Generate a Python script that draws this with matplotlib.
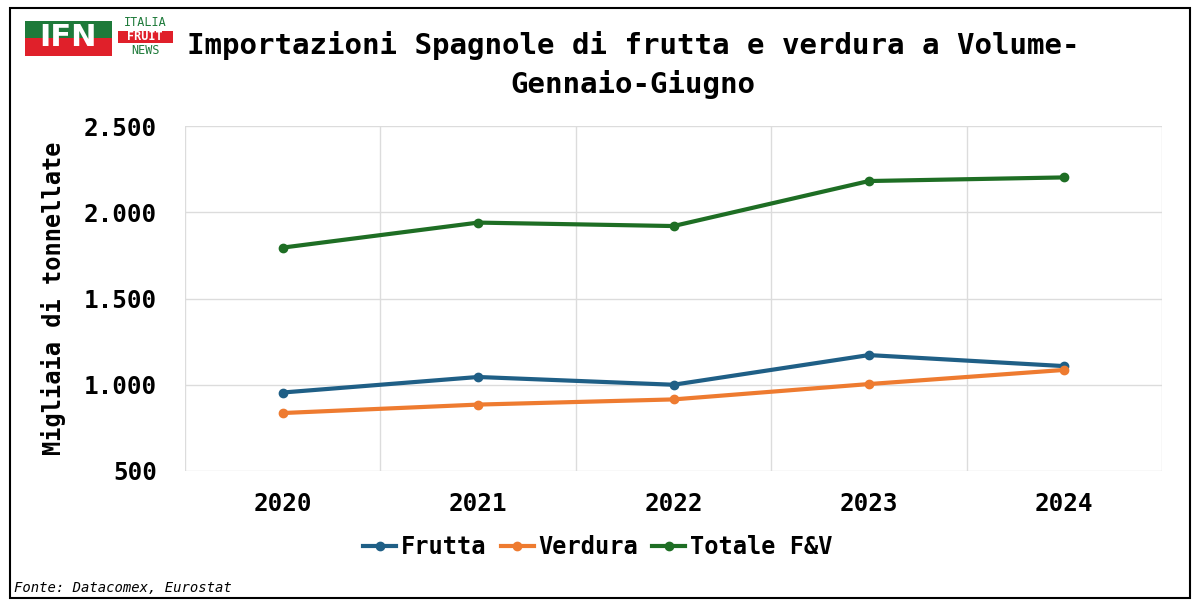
import matplotlib.pyplot as plt
from matplotlib.patches import Rectangle

years = ["2020", "2021", "2022", "2023", "2024"]
frutta = [955, 1045, 1000, 1172, 1108]
verdura = [836, 885, 915, 1004, 1086]
totale = [1795, 1940, 1920, 2181, 2202]
series_names = ["Frutta", "Verdura", "Totale F&V"]
colors = ["#1F5F86", "#EE7B30", "#1E6E24"]
yticks = [500, 1000, 1500, 2000, 2500]
ytick_labels = ["500", "1.000", "1.500", "2.000", "2.500"]

W, H = 1200, 608
fig = plt.figure(figsize=(12, 6.08), dpi=100)
mono = "DejaVu Sans Mono"

# plot area in pixel coords -> figure fractions
left, right, top, bottom = 185, 1162, 126, 471
ax = fig.add_axes([left / W, 1 - bottom / H, (right - left) / W, (bottom - top) / H])

x = list(range(len(years)))
for vals, name, c in zip([frutta, verdura, totale], series_names, colors):
    ax.plot(x, vals, color=c, lw=3, marker="o", markersize=6, label=name)

ax.set_xlim(-0.5, len(years) - 0.5)
ax.set_ylim(500, 2500)
ax.set_yticks(yticks, ytick_labels)
ax.set_xticks(x, years)
ax.set_xticks([i - 0.5 for i in range(len(years) + 1)], minor=True)
ax.grid(axis="y", color="#DCDCDC", lw=1)
ax.grid(axis="x", which="minor", color="#DCDCDC", lw=1)
ax.tick_params(which="both", length=0)
ax.tick_params(axis="y", pad=20)
ax.tick_params(axis="x", pad=15)
for s in ax.spines.values():
    s.set_visible(False)
for lab in ax.get_xticklabels() + ax.get_yticklabels():
    lab.set_fontfamily(mono)
    lab.set_fontweight("bold")
    lab.set_fontsize(17.5)
ax.set_ylabel("Migliaia di tonnellate", fontfamily=mono, fontweight="bold",
              fontsize=17, labelpad=13)

leg = fig.legend(loc="center", bbox_to_anchor=(598 / W, 1 - 547 / H), ncol=3,
                 frameon=False, handlelength=1.4, handletextpad=0.2, columnspacing=0.6,
                 prop={"family": mono, "weight": "bold", "size": 17})

fig.text(633 / W, 1 - 65 / H, "Importazioni Spagnole di frutta e verdura a Volume-\nGennaio-Giugno",
         ha="center", va="center", fontfamily=mono, fontweight="bold", fontsize=21,
         linespacing=1.45)

fig.text(14 / W, 1 - 588 / H, "Fonte: Datacomex, Eurostat", ha="left", va="center",
         fontfamily=mono, style="italic", fontsize=10)

# outer frame
fig.patches.append(Rectangle((10 / W, 1 - 598 / H), 1180 / W, 590 / H, transform=fig.transFigure,
                             fill=False, ec="black", lw=1.5))

# logo
fig.patches.append(Rectangle((25 / W, 1 - 38 / H), 87 / W, 17 / H, transform=fig.transFigure,
                             fc="#1E7A3A", ec="none"))
fig.patches.append(Rectangle((25 / W, 1 - 56 / H), 87 / W, 18 / H, transform=fig.transFigure,
                             fc="#E0202A", ec="none"))
fig.text(68 / W, 1 - 38 / H, "IFN", ha="center", va="center", color="white",
         fontweight="bold", fontsize=22, fontfamily="DejaVu Sans")
fig.text(145 / W, 1 - 23 / H, "ITALIA", ha="center", va="center", color="#1E7A3A",
         fontsize=8.5, fontfamily="DejaVu Sans Mono")
fig.patches.append(Rectangle((118 / W, 1 - 43 / H), 55 / W, 12 / H, transform=fig.transFigure,
                             fc="#E0202A", ec="none"))
fig.text(145 / W, 1 - 37 / H, "FRUIT", ha="center", va="center", color="white",
         fontsize=8.5, fontweight="bold", fontfamily="DejaVu Sans Mono")
fig.text(145 / W, 1 - 50 / H, "NEWS", ha="center", va="center", color="#1E7A3A",
         fontsize=8.5, fontfamily="DejaVu Sans Mono")

fig.savefig("out.png", dpi=100, facecolor="white")
